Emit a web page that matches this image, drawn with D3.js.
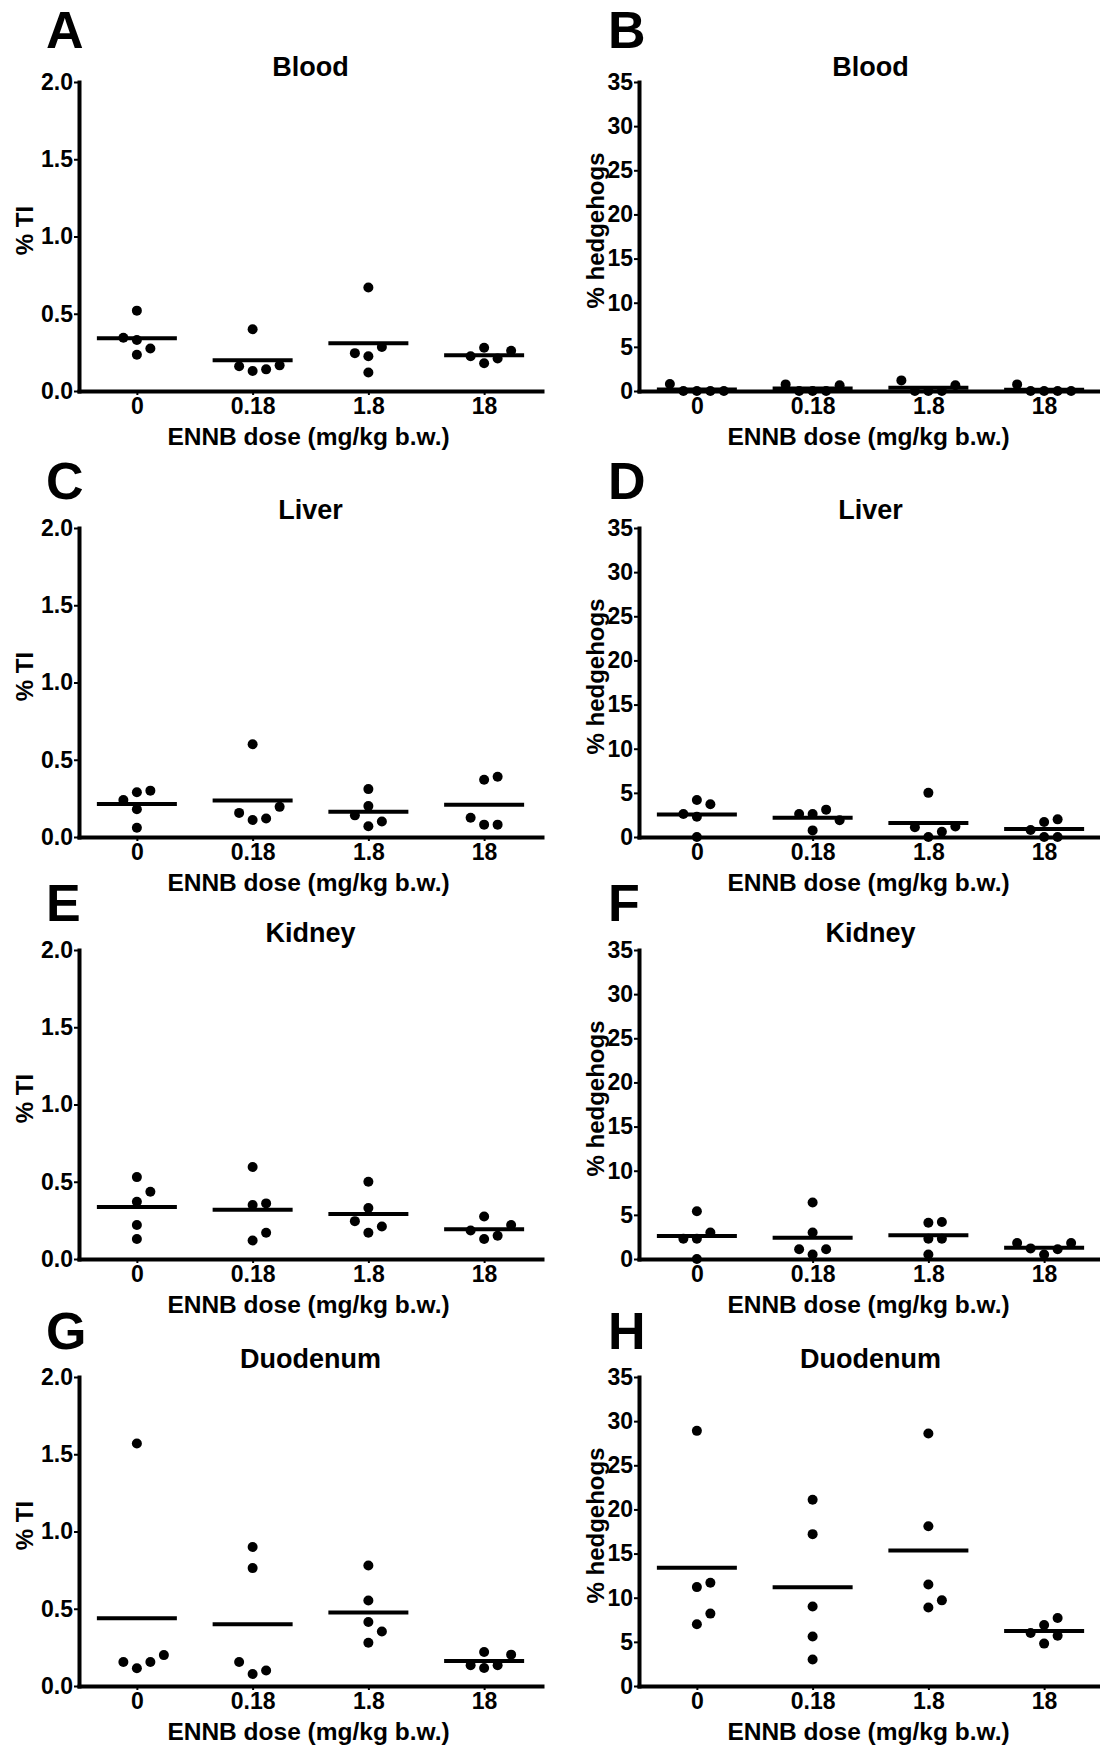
<!DOCTYPE html>
<html>
<head>
<meta charset="utf-8">
<script src="https://cdn.jsdelivr.net/npm/d3@7"></script>
<style>
  html, body { margin: 0; padding: 0; background: #fff; }
  svg { display: block; }
  text { font-family: "Liberation Sans", Arial, Helvetica, sans-serif; font-weight: bold; fill: #000; }
</style>
</head>
<body>
<script>
// ---------------- DATA ----------------
const categories = ["0", "0.18", "1.8", "18"];
const tiTicks = [0, 0.5, 1.0, 1.5, 2.0];
const hedgehogTicks = [0, 5, 10, 15, 20, 25, 30, 35];
const xAxisTitle = "ENNB dose (mg/kg b.w.)";
const tiLabel = "% TI";
const hedgehogLabel = "% hedgehogs";

// % tail intensity (one array of five animals per dose group)
const bloodTI = [
  [0.52, 0.33, 0.235, 0.275, 0.345],
  [0.40, 0.13, 0.14, 0.16, 0.166],
  [0.67, 0.225, 0.12, 0.285, 0.245],
  [0.28, 0.18, 0.21, 0.225, 0.26]
];
const liverTI = [
  [0.29, 0.18, 0.06, 0.30, 0.24],
  [0.60, 0.11, 0.12, 0.156, 0.195],
  [0.31, 0.20, 0.07, 0.10, 0.14],
  [0.37, 0.08, 0.08, 0.125, 0.39]
];
const kidneyTI = [
  [0.53, 0.37, 0.22, 0.13, 0.435],
  [0.595, 0.35, 0.12, 0.17, 0.36],
  [0.50, 0.33, 0.17, 0.21, 0.245],
  [0.275, 0.13, 0.15, 0.185, 0.22]
];
const duodenumTI = [
  [1.57, 0.115, 0.155, 0.155, 0.20],
  [0.90, 0.763, 0.078, 0.10, 0.155],
  [0.78, 0.553, 0.414, 0.28, 0.353],
  [0.22, 0.116, 0.134, 0.134, 0.203]
];

// % hedgehogs
const bloodHH = [
  [0, 0, 0, 0, 0.8],
  [0, 0, 0, 0.65, 0.75],
  [0, 0, 0, 0.65, 1.2],
  [0, 0, 0, 0, 0.75]
];
const liverHH = [
  [4.2, 2.3, 0, 3.7, 2.6],
  [2.6, 0.75, 3.1, 2.6, 1.9],
  [5.0, 0, 0.6, 1.1, 1.2],
  [1.7, 0, 0, 2.0, 0.8]
];
const kidneyHH = [
  [5.4, 2.3, 0, 3.0, 2.3],
  [6.4, 3.0, 0.5, 1.1, 1.1],
  [4.1, 2.3, 0.5, 4.2, 2.3],
  [0.5, 1.1, 1.2, 1.8, 1.8]
];
const duodenumHH = [
  [28.9, 11.2, 7.0, 8.2, 11.7],
  [21.1, 17.2, 9.0, 5.6, 3.0],
  [28.6, 18.1, 11.5, 8.9, 9.7],
  [6.9, 4.8, 5.7, 6.0, 7.7]
];

const panelLetters = ["A", "B", "C", "D", "E", "F", "G", "H"];
const tissues = ["Blood", "Liver", "Kidney", "Duodenum"];
const tiSeries = [bloodTI, liverTI, kidneyTI, duodenumTI];
const hhSeries = [bloodHH, liverHH, kidneyHH, duodenumHH];

// ---------------- LAYOUT ----------------
const W = 1100, H = 1749;
const colX = [[79, 542], [639, 1102]];
const rowY = [[82, 391], [528, 837], [950, 1259], [1377, 1686]];
const letterBaseline = [48, 499, 921, 1349];
const titleBaseline = [76, 519, 942, 1368];
const letterX = [46, 608];
const yLabelX = [24, 595];
const DOT_R = 5, SLOT = 13.5, COLLIDE = 13.5, MEAN_HALF = 40;
const FONT = "'Liberation Sans', Arial, sans-serif";

const svg = d3.select("body").append("svg")
  .attr("width", W).attr("height", H)
  .attr("viewBox", `0 0 ${W} ${H}`);
svg.append("rect").attr("width", W).attr("height", H).attr("fill", "#fff");

function swarm(values, y) {
  const placed = [];
  const slots = [0, 1, -1, 2, -2, 3, -3];
  return values.map(v => {
    const py = y(v);
    const slot = slots.find(s => !placed.some(p => p.slot === s && Math.abs(p.py - py) < COLLIDE));
    placed.push({ slot, py });
    return { v, slot };
  });
}

function drawPanel(row, col, series, kind) {
  const [x0, x1] = colX[col];
  const [yTop, yZero] = rowY[row];
  const ticks = kind === "ti" ? tiTicks : hedgehogTicks;
  const y = d3.scaleLinear().domain([0, d3.max(ticks)]).range([yZero, yTop]);
  const x = d3.scalePoint().domain(categories).range([x0, x1]).padding(0.5);
  const g = svg.append("g");

  // Panel letter and title
  g.append("text").attr("x", letterX[col]).attr("y", letterBaseline[row])
    .attr("font-size", 52).text(panelLetters[row * 2 + col]);
  g.append("text").attr("x", (x0 + x1) / 2).attr("y", titleBaseline[row])
    .attr("text-anchor", "middle").attr("font-size", 27).text(tissues[row]);

  // Y axis
  const yAxis = d3.axisLeft(y).tickValues(ticks).tickSizeInner(5).tickSizeOuter(0).tickPadding(1)
    .tickFormat(kind === "ti" ? d3.format(".1f") : d3.format("d"));
  const ga = g.append("g").attr("transform", `translate(${x0},0)`).call(yAxis);
  ga.select(".domain").attr("stroke-width", 4).attr("stroke-linecap", "square");
  ga.selectAll(".tick line").attr("stroke-width", 2);
  ga.selectAll(".tick text").attr("font-size", 23)
    .attr("font-family", FONT).attr("font-weight", "bold");

  // X axis
  const xAxis = d3.axisBottom(x).tickSizeInner(4).tickSizeOuter(0).tickPadding(3);
  const gx = g.append("g").attr("transform", `translate(0,${yZero})`).call(xAxis);
  gx.select(".domain").attr("stroke-width", 4).attr("stroke-linecap", "square");
  gx.selectAll(".tick line").attr("stroke-width", 2);
  gx.selectAll(".tick text").attr("font-size", 23)
    .attr("font-family", FONT).attr("font-weight", "bold");

  // Axis titles
  g.append("text").attr("x", (x0 + x1) / 2 - 2).attr("y", yZero + 54)
    .attr("text-anchor", "middle").attr("font-size", 24.5).text(xAxisTitle);
  const ly = (yTop + yZero) / 2 - 6;
  g.append("text")
    .attr("transform", `translate(${yLabelX[col]},${ly}) rotate(-90)`)
    .attr("text-anchor", "middle").attr("dy", "0.36em")
    .attr("font-size", 24).text(kind === "ti" ? tiLabel : hedgehogLabel);

  // Means and points
  series.forEach((vals, i) => {
    const cat = categories[i];
    const cx = x(cat);
    const m = d3.mean(vals);
    g.append("line")
      .attr("x1", cx - MEAN_HALF).attr("x2", cx + MEAN_HALF)
      .attr("y1", y(m)).attr("y2", y(m))
      .attr("stroke", "#000").attr("stroke-width", 4);
    g.selectAll(null).data(swarm(vals, y)).enter().append("circle")
      .attr("cx", d => cx + d.slot * SLOT)
      .attr("cy", d => y(d.v))
      .attr("r", DOT_R).attr("fill", "#000");
  });
}

for (let r = 0; r < 4; r++) {
  drawPanel(r, 0, tiSeries[r], "ti");
  drawPanel(r, 1, hhSeries[r], "hh");
}
</script>
</body>
</html>
